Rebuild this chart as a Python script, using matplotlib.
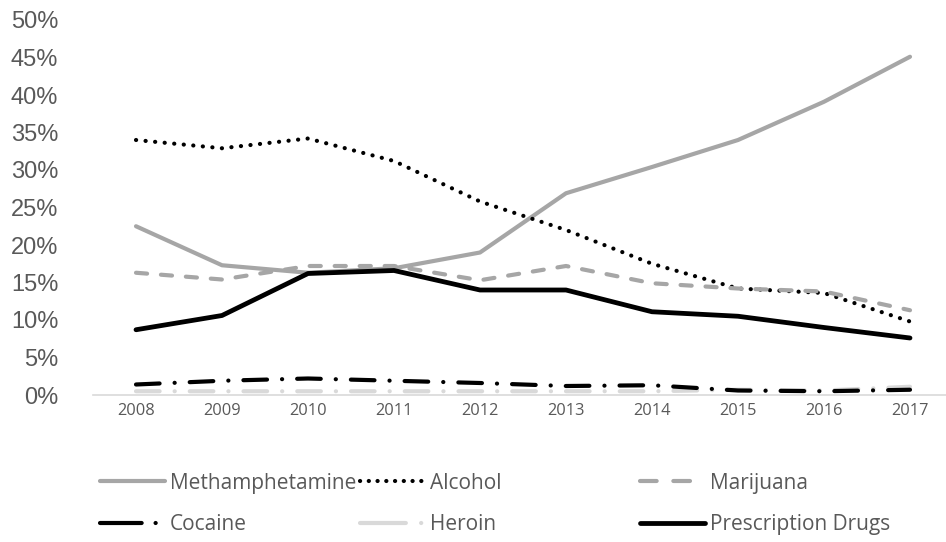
import matplotlib.pyplot as plt
from matplotlib.lines import Line2D
from matplotlib.ticker import PercentFormatter

years = ['2008', '2009', '2010', '2011', '2012', '2013', '2014', '2015', '2016', '2017']
meth = [22.5, 17.3, 16.3, 16.9, 19.0, 26.9, 30.4, 34.0, 39.1, 45.1]
alcohol = [34.0, 32.9, 34.2, 31.2, 25.8, 22.0, 17.5, 14.2, 13.6, 9.8]
marijuana = [16.3, 15.4, 17.2, 17.2, 15.3, 17.2, 14.9, 14.2, 13.8, 11.3]
cocaine = [1.4, 1.9, 2.2, 1.9, 1.6, 1.2, 1.3, 0.6, 0.5, 0.7]
heroin = [0.5, 0.5, 0.5, 0.5, 0.5, 0.5, 0.5, 0.7, 0.6, 1.1]
prescription = [8.7, 10.6, 16.2, 16.6, 14.0, 14.0, 11.1, 10.5, 9.0, 7.6]

plt.rcParams['font.family'] = ['Open Sans', 'DejaVu Sans']
plt.rcParams['lines.scale_dashes'] = False

text_gray = '#595959'
fig = plt.figure(figsize=(9.46, 5.42), dpi=100)
ax = fig.add_axes([93 / 946, 147 / 542, 860 / 946, 375 / 542])
x = range(len(years))

lw = 3.0
dot = (0, (0.1, 6.8))
dashdot = (0, (17, 10.8, 0.1, 10.8))
ax.plot(x, meth, color='#a6a6a6', lw=lw, solid_capstyle='round')
ax.plot(x, alcohol, color='black', lw=lw, linestyle=dot, dash_capstyle='round')
ax.plot(x, marijuana, color='#a6a6a6', lw=lw, linestyle=(0, (8, 10)), dash_capstyle='round')
ax.plot(x, heroin, color='#d9d9d9', lw=lw, linestyle=dashdot, dash_capstyle='round')
ax.plot(x, cocaine, color='black', lw=lw, linestyle=dashdot, dash_capstyle='round')
ax.plot(x, prescription, color='black', lw=lw * 1.15, solid_capstyle='round')

ax.set_xlim(-0.5, 9.5)
ax.set_ylim(0, 50)
ax.set_yticks(range(0, 51, 5))
ax.yaxis.set_major_formatter(PercentFormatter(decimals=0))
ax.set_xticks(list(x))
ax.set_xticklabels(years)
for s in ['top', 'right', 'left']:
    ax.spines[s].set_visible(False)
ax.spines['bottom'].set_color('#d9d9d9')
ax.spines['bottom'].set_linewidth(1.2)
ax.tick_params(axis='both', length=0)
ax.tick_params(axis='y', labelsize=17, pad=25, labelcolor=text_gray)
for t in ax.get_yticklabels():
    t.set_fontfamily('Liberation Sans')
ax.tick_params(axis='x', labelsize=11.8, pad=6, labelcolor=text_gray)

# legend: three columns at fixed positions, two rows each
leg_cols = [
    [('Methamphetamine', dict(color='#a6a6a6', lw=lw, solid_capstyle='round')),
     ('Cocaine', dict(color='black', lw=lw, linestyle=(0, (30, 10, 0.1, 20)), dash_capstyle='round'))],
    [('Alcohol', dict(color='black', lw=lw, linestyle=(0, (0.1, 6.2)), dash_capstyle='round')),
     ('Heroin', dict(color='#d9d9d9', lw=lw, linestyle=(0, (33, 11, 0.1, 20)), dash_capstyle='round'))],
    [('Marijuana', dict(color='#a6a6a6', lw=lw, linestyle=(0, (12, 12)), dash_capstyle='round')),
     ('Prescription Drugs', dict(color='black', lw=lw * 1.15, solid_capstyle='round'))],
]
col_x = [100, 360, 640]
for cx, col in zip(col_x, leg_cols):
    handles = [Line2D([], [], **style) for _, style in col]
    fig.legend(handles=handles, labels=[name for name, _ in col],
               loc='center left', bbox_to_anchor=(cx / 946, 1 - 504 / 542),
               frameon=False, fontsize=15, handlelength=3.1, handletextpad=0.25,
               labelspacing=1.0, borderpad=0, borderaxespad=0,
               labelcolor=text_gray)

fig.savefig('out.png', dpi=100)
